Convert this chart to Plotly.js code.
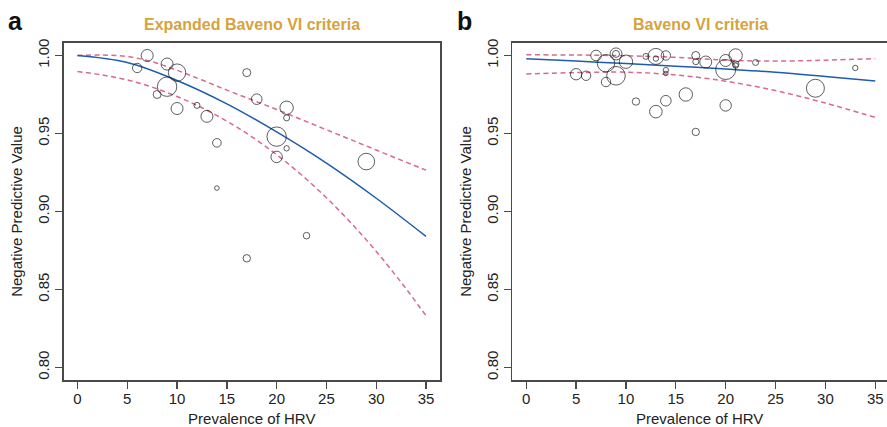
<!DOCTYPE html>
<html><head><meta charset="utf-8">
<script src="https://cdn.plot.ly/plotly-3.0.1.min.js"></script>
<style>html,body{margin:0;padding:0;background:#fff}#chart{width:887px;height:427px}</style>
</head><body><div id="chart"></div>
<script>
// ---- shared ticks ----
const xTicks = [0, 5, 10, 15, 20, 25, 30, 35];
const yTicks = [0.80, 0.85, 0.90, 0.95, 1.00];
const yTickLabels = ['0.80', '0.85', '0.90', '0.95', '1.00'];

// ---- panel a: Expanded Baveno VI criteria ----
const prevA = [7, 6, 9, 10, 9, 8, 10, 12, 13, 14, 14, 17, 18, 21, 21, 20, 21, 20, 29, 23, 17];
const npvA = [1.000, 0.992, 0.9945, 0.989, 0.980, 0.975, 0.966, 0.968, 0.961, 0.944, 0.915, 0.989, 0.972, 0.9665, 0.960, 0.948, 0.9405, 0.935, 0.932, 0.8845, 0.870];
const weightA = [6.0, 4.7, 6.0, 8.7, 9.7, 4.0, 6.0, 3.0, 6.0, 4.3, 2.3, 4.0, 5.3, 6.7, 3.0, 9.7, 2.7, 5.7, 8.3, 3.3, 3.7];

const fitXA = [0, 5, 10, 15, 20, 25, 30, 35];
const fitA = [1.000, 0.9955, 0.984, 0.969, 0.951, 0.931, 0.9085, 0.884];
const bandXA = [0, 2.5, 5, 7.5, 10, 12.5, 15, 17.5, 20, 22.5, 25, 27.5, 30, 32.5, 35];
const upperA = [1.000, 1.0003, 0.9993, 0.996, 0.9905, 0.9843, 0.9778, 0.9716, 0.9654, 0.9589, 0.9524, 0.9459, 0.9394, 0.9329, 0.9265];
const lowerA = [0.9897, 0.9875, 0.9843, 0.9797, 0.9737, 0.9665, 0.9579, 0.9479, 0.9364, 0.9234, 0.9088, 0.8924, 0.8744, 0.8546, 0.8332];

// ---- panel b: Baveno VI criteria ----
const prevB = [7, 9, 9, 8, 10, 9, 8, 5, 6, 12, 13, 13, 14, 14, 14, 11, 14, 13, 16, 17, 17, 18, 17, 20, 20, 21, 21, 21, 20, 23, 29, 33];
const npvB = [1.000, 1.001, 1.001, 0.995, 0.996, 0.987, 0.983, 0.988, 0.987, 0.9994, 0.9994, 0.998, 1.000, 0.9906, 0.9885, 0.9705, 0.971, 0.964, 0.975, 1.000, 0.996, 0.9958, 0.951, 0.9968, 0.991, 1.000, 0.9945, 0.9935, 0.968, 0.9955, 0.979, 0.992];
const weightB = [5.3, 6.0, 3.5, 8.7, 6.7, 9.3, 4.7, 5.7, 4.7, 3.0, 8.0, 2.7, 4.7, 2.7, 2.3, 3.7, 5.3, 6.3, 6.7, 4.0, 3.0, 6.0, 3.7, 6.0, 10.0, 6.7, 3.3, 2.7, 5.7, 3.0, 9.0, 2.7];

const curveXB = [0, 5, 10, 15, 20, 25, 30, 35];
const fitB = [0.9979, 0.9964, 0.9948, 0.9931, 0.9913, 0.9893, 0.9866, 0.9837];
const upperB = [1.0004, 1.0003, 0.9998, 0.9988, 0.9970, 0.9964, 0.9970, 0.9980];
const lowerB = [0.9882, 0.9890, 0.9893, 0.9875, 0.9835, 0.9775, 0.9695, 0.9603];

const FONT = 'Liberation Sans, Arial, Helvetica, sans-serif';
const BLUE = '#1d5caf';
const PINK = '#d86a8e';
const AXC = '#4a4a4a';

function bubbles(x, y, w, xa, ya) {
  return {x: x, y: y, xaxis: xa, yaxis: ya, type: 'scatter', mode: 'markers', hoverinfo: 'skip',
    marker: {symbol: 'circle-open', size: w, sizemode: 'diameter', sizeref: 0.5, color: '#1a1a1a', line: {width: 1, color: '#1a1a1a'}}};
}
function curve(x, y, xa, ya, color, dash) {
  return {x: x, y: y, xaxis: xa, yaxis: ya, type: 'scatter', mode: 'lines', hoverinfo: 'skip',
    line: {color: color, width: 1.5, dash: dash, shape: 'spline', smoothing: 1}};
}

const traces = [
  curve(bandXA, upperA, 'x', 'y', PINK, '5px,3.5px'),
  curve(bandXA, lowerA, 'x', 'y', PINK, '5px,3.5px'),
  curve(fitXA, fitA, 'x', 'y', BLUE, 'solid'),
  bubbles(prevA, npvA, weightA, 'x', 'y'),
  curve(curveXB, upperB, 'x2', 'y2', PINK, '5px,3.5px'),
  curve(curveXB, lowerB, 'x2', 'y2', PINK, '5px,3.5px'),
  curve(curveXB, fitB, 'x2', 'y2', BLUE, 'solid'),
  bubbles(prevB, npvB, weightB, 'x2', 'y2')
];

function xax(domain, range, mirror) {
  return {domain: domain, range: range, tickvals: xTicks, ticks: 'outside', ticklen: 7, tickwidth: 1.3, tickcolor: AXC,
    showline: true, linecolor: AXC, linewidth: 1.6, mirror: mirror, showgrid: false, zeroline: false, automargin: false,
    ticklabelstandoff: -3,
    tickfont: {family: FONT, size: 15, color: '#222'},
    title: {text: 'Prevalence of HRV', font: {family: FONT, size: 15, color: '#222'}, standoff: 10}};
}
function yax(anchor, mirror) {
  return {domain: [0.11007, 0.8993], range: [0.792, 1.008], anchor: anchor, tickvals: yTicks, ticktext: yTickLabels,
    ticks: 'outside', ticklen: 7, tickwidth: 1.3, tickcolor: AXC, tickangle: -90,
    showline: true, linecolor: AXC, linewidth: 1.6, mirror: mirror, showgrid: false, zeroline: false, automargin: false,
    tickfont: {family: FONT, size: 15, color: '#222'},
    title: {text: 'Negative Predictive Value', font: {family: FONT, size: 15, color: '#222'}, standoff: 8}};
}

const layout = {
  width: 887, height: 427, margin: {l: 0, r: 0, t: 0, b: 0},
  paper_bgcolor: '#fff', plot_bgcolor: '#fff', showlegend: false,
  xaxis: Object.assign(xax([0.07159, 0.49605], [-1.4, 36.4], true), {anchor: 'y'}),
  yaxis: yax('x', true),
  xaxis2: Object.assign(xax([0.57757, 1], [-1.4, 36.18], true), {anchor: 'y2'}),
  yaxis2: yax('x2', false),
  annotations: [
    {text: 'Expanded Baveno VI criteria', xref: 'paper', yref: 'paper', x: 251.7 / 887, y: 1 - 24.5 / 427, xanchor: 'center', yanchor: 'middle', showarrow: false,
      font: {family: FONT, size: 16, color: '#d6a33c', weight: 'bold'}},
    {text: 'Baveno VI criteria', xref: 'paper', yref: 'paper', x: 700 / 887, y: 1 - 24.5 / 427, xanchor: 'center', yanchor: 'middle', showarrow: false,
      font: {family: FONT, size: 16, color: '#d6a33c', weight: 'bold'}},
    {text: 'a', xref: 'paper', yref: 'paper', x: 15.5 / 887, y: 1 - 21 / 427, xanchor: 'center', yanchor: 'middle', showarrow: false,
      font: {family: FONT, size: 25, color: '#111', weight: 'bold'}},
    {text: 'b', xref: 'paper', yref: 'paper', x: 464 / 887, y: 1 - 21 / 427, xanchor: 'center', yanchor: 'middle', showarrow: false,
      font: {family: FONT, size: 25, color: '#111', weight: 'bold'}}
  ]
};

Plotly.newPlot('chart', traces, layout, {staticPlot: true, displayModeBar: false});
</script>
</body></html>
